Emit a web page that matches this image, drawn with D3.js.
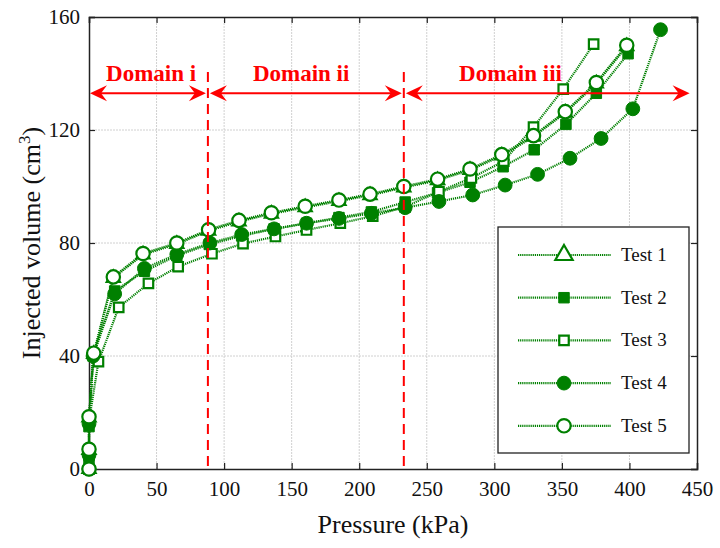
<!DOCTYPE html>
<html><head><meta charset="utf-8">
<script src="https://cdn.jsdelivr.net/npm/d3@7"></script>
<style>body{margin:0;background:#fff}svg{font-family:"Liberation Serif","Times New Roman",serif}</style>
</head><body>
<svg id="c" width="720" height="548"></svg>
<script>
const xTicks=[0,50,100,150,200,250,300,350,400,450];
const yTicks=[0,40,80,120,160];
const test1=[[0,0],[0,6.7],[0,18.2],[3.5,40.7],[18,67.6],[40,75.9],[65,79.6],[88.5,84.3],[111,87.6],[135,90.3],[160,92.6],[185,94.8],[208,96.9],[233,99.6],[258,102.2],[282,105.8],[305.5,110.9],[329,117.6],[352.5,126.1],[375.5,136.4],[398,149.6]];
const test2=[[0,0],[0,4],[0,15],[3,40],[19,63],[41,70],[65,75.5],[89,79.5],[113,82.5],[137,85],[161,87],[185,89],[209,91],[234,94.5],[258,97.8],[282,101.5],[306.5,107],[329.5,113],[353,122],[375.5,133],[399,147]];
const test3=[[0,0],[0,5],[0,17],[7,38],[22,57.2],[44,65.7],[66,71.6],[91,76.2],[114,79.8],[138,82.3],[161,84.6],[186,87],[210,89.5],[234,92.8],[259,98.2],[283,103],[307,109],[329,121],[351,134.5],[373.5,150.4]];
const test4=[[0,0],[0,5],[0,16],[3,40],[19,62],[41,71],[65,76],[89.5,80],[113,83],[137,85],[161,87],[185,88.7],[209,90.5],[234,92.5],[259,94.7],[284,97],[308,100.5],[332,104.3],[356,110],[379,117],[402.5,127.5],[423,155.5]];
const test5=[[0,0],[0,7],[0,18.5],[3.5,41],[18,68],[40,76.3],[65,80],[88.5,84.7],[111,88],[135,90.7],[160,93],[185,95.2],[208,97.3],[233,100],[258,102.6],[282,106.2],[305.5,111.3],[329,118],[352.5,126.5],[375.5,136.8],[398,150]];
const seriesNames=["Test 1","Test 2","Test 3","Test 4","Test 5"];
const seriesData=[test1,test2,test3,test4,test5];
const seriesMarkers=["triangle","fsquare","osquare","fcircle","ocircle"];
const domainBounds=[0,88,233,446];
const domainLabels=["Domain i","Domain ii","Domain iii"];
const domainArrowY=133;
const domainLabelX=[46,157,312];
const domainLineTop=140.5;

const svg=d3.select("#c");
const L=89,R=697,T=17,B=469;
const x=d3.scaleLinear().domain([0,450]).range([L,R]);
const y=d3.scaleLinear().domain([0,160]).range([B,T]);
const G="#008000";

// grid
const g=svg.append("g");
g.selectAll(".gx").data(xTicks.slice(1,-1)).join("line").attr("x1",d=>x(d)).attr("x2",d=>x(d)).attr("y1",T).attr("y2",B).attr("stroke","#d0d0d0").attr("stroke-width",1).attr("stroke-dasharray","2,1");
g.selectAll(".gy").data(yTicks.slice(1,-1)).join("line").attr("x1",L).attr("x2",R).attr("y1",d=>y(d)).attr("y2",d=>y(d)).attr("stroke","#d0d0d0").attr("stroke-width",1).attr("stroke-dasharray","2,1");

// axes
const ax=svg.append("g").attr("transform",`translate(0,${B})`).call(d3.axisBottom(x).tickValues(xTicks).tickSize(-6).tickPadding(12));
const ay=svg.append("g").attr("transform",`translate(${L},0)`).call(d3.axisLeft(y).tickValues(yTicks).tickSize(-6).tickPadding(9));
const at=svg.append("g").attr("transform",`translate(0,${T})`).call(d3.axisTop(x).tickValues(xTicks).tickSize(-6).tickFormat(""));
const ar=svg.append("g").attr("transform",`translate(${R},0)`).call(d3.axisRight(y).tickValues(yTicks).tickSize(-6).tickFormat(""));
[ax,ay,at,ar].forEach(a=>{a.select(".domain").attr("stroke","#222").attr("stroke-width",1.5);a.selectAll(".tick line").attr("stroke","#222").attr("stroke-width",1.2);a.selectAll("text").attr("font-family","Liberation Serif, serif").attr("font-size",21).attr("fill","#111");});

// lines
const line=d3.line().x(d=>x(d[0])).y(d=>y(d[1]));
const sym={triangle:d3.symbolTriangle,fsquare:d3.symbolSquare,osquare:d3.symbolSquare,fcircle:d3.symbolCircle,ocircle:d3.symbolCircle};
const symSize={triangle:75,fsquare:110,osquare:90,fcircle:150,ocircle:140};
const filled=m=>m[0]==="f";
function drawMarker(sel,m,big){
  const s=big&&m==="triangle"?130:symSize[m];
  sel.attr("d",d3.symbol().type(sym[m]).size(s)).attr("fill",filled(m)?G:"#fff").attr("stroke",G).attr("stroke-width",filled(m)?1:2.2);
}
seriesData.forEach((data,i)=>{
  svg.append("path").datum(data).attr("d",line).attr("fill","none").attr("stroke",G).attr("stroke-width",2.2).attr("stroke-dasharray","1.2,0.9");
});
seriesData.forEach((data,i)=>{
  svg.append("g").selectAll("path").data(data).join("path").attr("transform",d=>`translate(${x(d[0])},${y(d[1])})`).call(drawMarker,seriesMarkers[i],false);
});

// domains
const red="#ff0000";
const dg=svg.append("g");
domainBounds.slice(1,-1).forEach(b=>{
  dg.append("line").attr("x1",x(b)).attr("x2",x(b)).attr("y1",y(domainLineTop)).attr("y2",B).attr("stroke",red).attr("stroke-width",2).attr("stroke-dasharray","10,6");
});
function arrowHead(px,py,dir){
  const l=17,w=8,n=6;
  return `M${px},${py}L${px-dir*l},${py-w}L${px-dir*(l-n)},${py}L${px-dir*l},${py+w}Z`;
}
for(let i=0;i<3;i++){
  const a=x(domainBounds[i])+(i===0?1:2), b=x(domainBounds[i+1])-2, yy=y(domainArrowY);
  dg.append("line").attr("x1",a+6).attr("x2",b-6).attr("y1",yy).attr("y2",yy).attr("stroke",red).attr("stroke-width",2);
  dg.append("path").attr("d",arrowHead(a,yy,-1)).attr("fill",red);
  dg.append("path").attr("d",arrowHead(b,yy,1)).attr("fill",red);
  dg.append("text").attr("x",x(domainLabelX[i])).attr("y",y(domainArrowY)-12).attr("text-anchor","middle").attr("font-weight","bold").attr("font-size",23).attr("fill",red).text(domainLabels[i]);
}

// legend
const lg=svg.append("g");
lg.append("rect").attr("x",498).attr("y",227).attr("width",191).attr("height",226).attr("fill","#fff").attr("stroke","#222").attr("stroke-width",1.3);
seriesNames.forEach((n,i)=>{
  const yy=255+i*42.7;
  lg.append("line").attr("x1",518).attr("x2",611).attr("y1",yy).attr("y2",yy).attr("stroke",G).attr("stroke-width",2.2).attr("stroke-dasharray","1.2,0.9");
  lg.append("path").attr("transform",`translate(564,${yy})`).call(drawMarker,seriesMarkers[i],true);
  lg.append("text").attr("x",621).attr("y",yy+6).attr("font-size",19).attr("fill","#111").text(n);
});

// titles
svg.append("text").attr("x",(L+R)/2).attr("y",533).attr("text-anchor","middle").attr("font-size",26).attr("fill","#111").text("Pressure (kPa)");
const yt=svg.append("text").attr("transform",`translate(40,${(T+B)/2}) rotate(-90)`).attr("text-anchor","middle").attr("font-size",26).attr("fill","#111");
yt.append("tspan").text("Injected volume (cm");
yt.append("tspan").attr("font-size",17).attr("dy",-10).text("3");
yt.append("tspan").attr("dy",10).text(")");
</script>
</body></html>
